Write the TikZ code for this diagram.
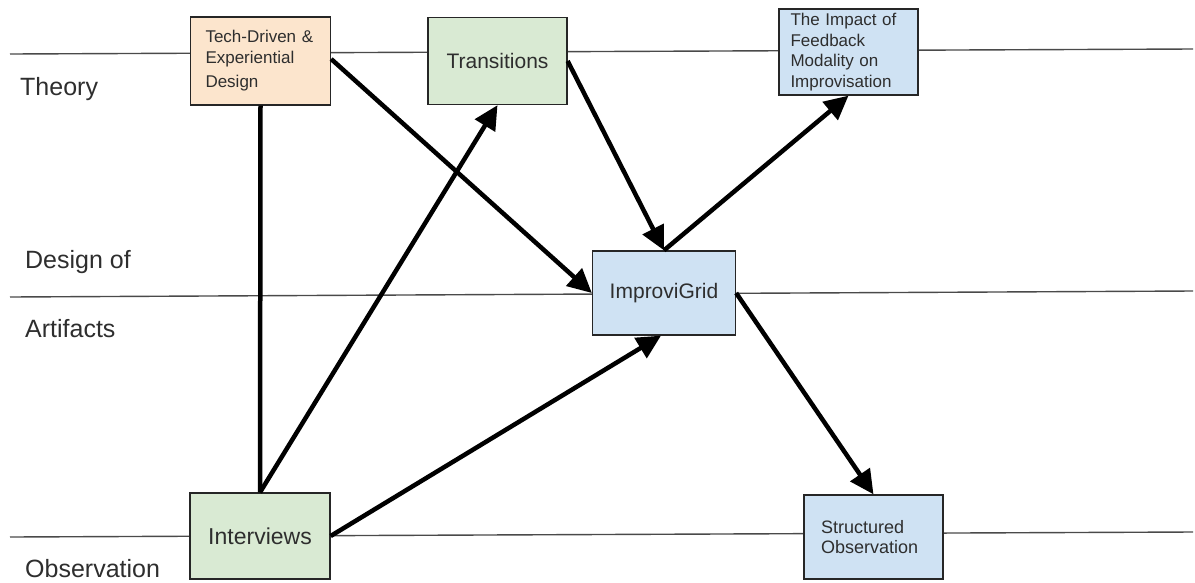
\documentclass[tikz,border=0pt]{standalone}
\usepackage{fontspec}
\setmainfont{Liberation Sans}
\usetikzlibrary{arrows.meta}
\definecolor{peach}{HTML}{FCE5CD}
\definecolor{lgreen}{HTML}{D9EAD3}
\definecolor{lblue}{HTML}{CFE2F3}
\definecolor{txt}{HTML}{2E2E2E}
\definecolor{guide}{HTML}{4A4A4A}
\begin{document}
\begin{tikzpicture}[x=1pt,y=-1pt,
  box/.style={draw=black!85, line width=1.3pt, text=txt, inner sep=0pt},
  guideline/.style={draw=guide, line width=1.4pt},
  lab/.style={anchor=base west, text=txt, font=\fontsize{25}{30}\selectfont, inner sep=0pt},
  conn/.style={line width=4.5pt, black},
  arr/.style={conn, -{Triangle[length=24pt,width=23pt]}}
]
\useasboundingbox (0,0) rectangle (1195,582);
% guide lines
\coordinate (t1) at (10,54);
\coordinate (t2) at (1193,49);
\coordinate (m1) at (10,297);
\coordinate (m2) at (1193,291);
\coordinate (b1) at (10,537);
\coordinate (b2) at (1193,532);
\draw[guideline] (t1) -- (t2);
\draw[guideline] (m1) -- (m2);
\draw[guideline] (b1) -- (b2);
% labels
\node[lab] (theory) at (20,95) {Theory};
\node[lab] (design) at (25,268) {Design of};
\node[lab] (artif) at (25,337) {Artifacts};
\node[lab] (obs) at (25,577) {Observation};
% boxes
\node[box, fill=peach, minimum width=140pt, minimum height=88pt, text width=110pt, align=left,
  font=\fontsize{17}{21}\selectfont] (tech) at (260.5,61)
  {Tech-Driven \&\\Experiential\\[3pt]Design};
\node[box, fill=lgreen, minimum width=139pt, minimum height=87pt,
  font=\fontsize{21}{25}\selectfont] (trans) at (497.5,61) {Transitions};
\node[box, fill=lblue, minimum width=139pt, minimum height=86pt, text width=116pt, align=left,
  font=\fontsize{17}{20.5}\selectfont] (impact) at (848.5,52)
  {The Impact of\\Feedback\\Modality on\\Improvisation};
\node[box, fill=lblue, minimum width=143pt, minimum height=84pt,
  font=\fontsize{21}{25}\selectfont] (impr) at (664,293) {ImproviGrid};
\node[box, fill=lgreen, minimum width=140pt, minimum height=86pt,
  font=\fontsize{23}{27}\selectfont] (interv) at (260,536) {Interviews};
\node[box, fill=lblue, minimum width=139pt, minimum height=84pt, text width=105pt, align=left,
  font=\fontsize{18}{20}\selectfont] (struct) at (873.5,537) {Structured\\Observation};
% connectors
\draw[conn] (tech.south) -- (interv.north);
\draw[arr] (interv.north) -- (trans.south);
\draw[arr] ([yshift=2pt]tech.east) -- (impr.west);
\draw[arr] (trans.east) -- (impr.north);
\draw[arr] (impr.north) -- (impact.south);
\draw[arr] (interv.east) -- ([xshift=-3pt]impr.south);
\draw[arr] (impr.east) -- (struct.north);
\end{tikzpicture}
\end{document}
